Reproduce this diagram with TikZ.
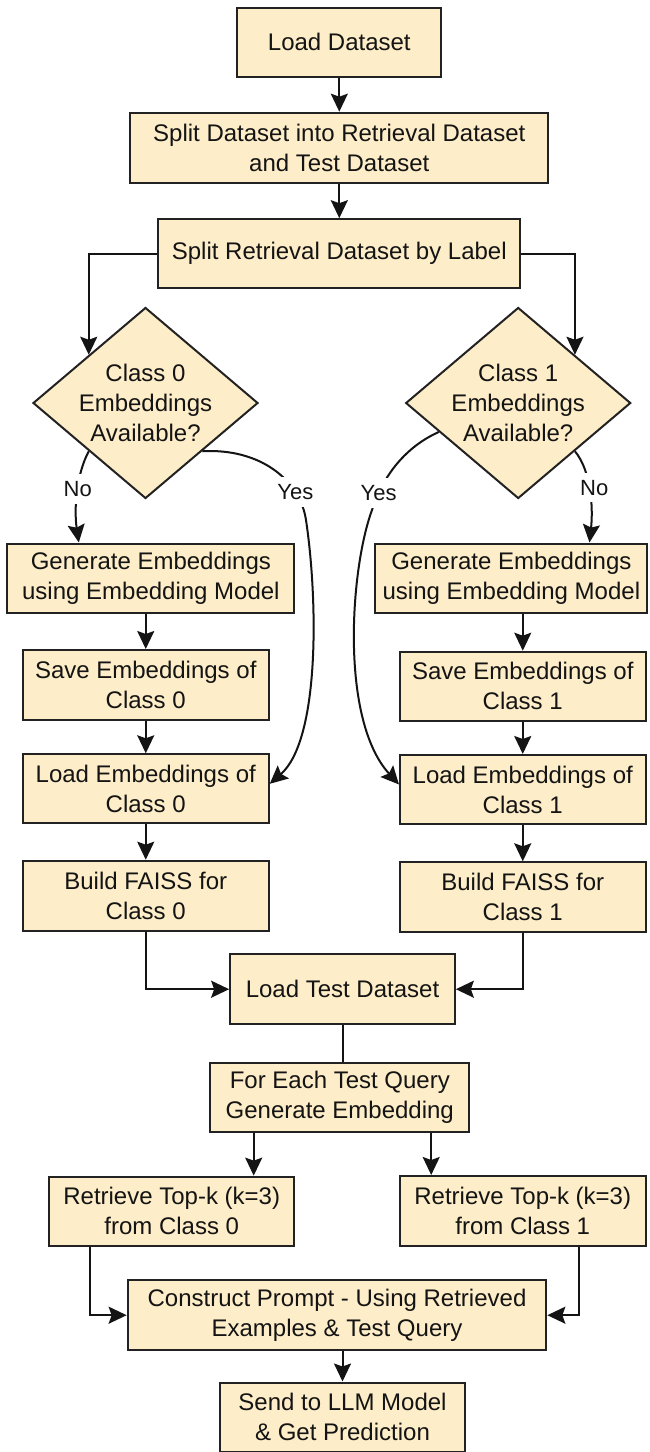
\documentclass[tikz,border=0pt]{standalone}
\usepackage{fontspec}
\setmainfont{Liberation Sans}
\usetikzlibrary{arrows.meta,shapes.geometric,calc}
\definecolor{boxfill}{HTML}{FDEDC8}
\definecolor{ink}{HTML}{141414}
\definecolor{edge}{HTML}{222222}
\begin{document}
\begin{tikzpicture}[x=1pt,y=-1pt,
  every node/.style={font=\fontsize{24}{30}\selectfont, text=ink},
  box/.style={draw=edge, fill=boxfill, line width=2pt, align=center, inner sep=0pt},
  dia/.style={draw=edge, fill=boxfill, line width=2pt, shape=diamond, align=center,
              inner sep=-30pt, minimum width=225pt, minimum height=191pt},
  conn/.style={draw=ink, line width=2pt},
  arr/.style={conn, -{Stealth[length=18pt,width=17pt,inset=3pt]}},
  lbl/.style={fill=white, inner xsep=2pt, inner ysep=7pt, font=\fontsize{22}{26}\selectfont}
]
\useasboundingbox (0,0) rectangle (650,1452);

\coordinate (n0) at (78.8,0);
\coordinate (n1) at (589.5,0);
\coordinate (f0) at (253.7,0);
\coordinate (f1) at (431.2,0);
\coordinate (c0) at (90,0);
\coordinate (c1) at (579.2,0);

\node[box, minimum width=204pt, minimum height=69pt] (load) at (339.3,42) {Load Dataset};
\node[box, minimum width=418pt, minimum height=70pt] (split) at (339.3,147.7) {Split Dataset into Retrieval Dataset\\and Test Dataset};
\node[box, minimum width=362pt, minimum height=69pt] (splitr) at (339.3,253.7) {Split Retrieval Dataset by Label};
\node[dia] (dia0) at (145.5,403) {Class 0\\Embeddings\\Available?};
\node[dia] (dia1) at (518.2,403) {Class 1\\Embeddings\\Available?};
\node[box, minimum width=287pt, minimum height=69pt] (gen0) at (150.9,578) {Generate Embeddings\\using Embedding Model};
\node[box, minimum width=272pt, minimum height=69pt] (gen1) at (511.4,578) {Generate Embeddings\\using Embedding Model};
\node[box, minimum width=246pt, minimum height=70pt] (save0) at (145.75,685) {Save Embeddings of\\Class 0};
\node[box, minimum width=245.5pt, minimum height=69pt] (save1) at (522.75,686.2) {Save Embeddings of\\Class 1};
\node[box, minimum width=246pt, minimum height=69pt] (load0) at (145.75,788.8) {Load Embeddings of\\Class 0};
\node[box, minimum width=245.5pt, minimum height=69pt] (load1) at (522.75,789.5) {Load Embeddings of\\Class 1};
\node[box, minimum width=246pt, minimum height=70pt] (build0) at (145.75,895.7) {Build FAISS for\\Class 0};
\node[box, minimum width=245.5pt, minimum height=69.4pt] (build1) at (522.75,897) {Build FAISS for\\Class 1};
\node[box, minimum width=224.7pt, minimum height=69.7pt] (loadt) at (342.5,989.2) {Load Test Dataset};
\node[box, minimum width=259pt, minimum height=69.3pt] (each) at (339.8,1097.3) {For Each Test Query\\Generate Embedding};
\node[box, minimum width=245.5pt, minimum height=69.3pt] (ret0) at (171.7,1211.3) {Retrieve Top-k (k=3)\\from Class 0};
\node[box, minimum width=245.5pt, minimum height=70pt] (ret1) at (522.75,1211) {Retrieve Top-k (k=3)\\from Class 1};
\node[box, minimum width=418.7pt, minimum height=69.7pt] (cons) at (337,1315.2) {Construct Prompt - Using Retrieved\\Examples \& Test Query};
\node[box, minimum width=245.5pt, minimum height=69pt] (send) at (342.5,1417) {Send to LLM Model\\\& Get Prediction};

\draw[arr] (load) -- (split);
\draw[arr] (split) -- (splitr);
\draw[arr] (splitr.west) -| (dia0.north west);
\draw[arr] (splitr.east) -| (dia1.north east);

\draw[arr] (dia0.south west) .. controls (76,475) and (74,510) .. (gen0.north -| n0)
  node[lbl, pos=0.45] {No};
\draw[arr] (dia1.south east) .. controls (592,472) and (593,510) .. (gen1.north -| n1)
  node[lbl, pos=0.45, xshift=5pt] {No};
\draw[arr] (dia0.south east) .. controls (260,448) and (300,480) .. (306,520)
  node[lbl, pos=0.75] {Yes}
  .. controls (318,600) and (320,740) .. ($(load0.east)+(0,-5)$);
\draw[arr] ($(dia1.west)!0.3!(dia1.south)$) .. controls (410,445) and (385,470) .. (372,510)
  node[lbl, pos=0.85] {Yes}
  .. controls (350,570) and (340,720) .. ($(load1.west)+(0,-5)$);

\draw[arr] (save0.north |- gen0.south) -- (save0.north);
\draw[arr] (save1.north |- gen1.south) -- (save1.north);
\draw[arr] (save0) -- (load0);
\draw[arr] (load0) -- (build0);
\draw[arr] (save1) -- (load1);
\draw[arr] (load1) -- (build1);
\draw[arr] (build0.south) |- (loadt.west);
\draw[arr] (build1.south) |- (loadt.east);
\draw[conn] (loadt.south) -- (loadt.south |- each.north);
\draw[arr] (each.south -| f0) -- (ret0.north -| f0);
\draw[arr] (each.south -| f1) -- (ret1.north -| f1);
\draw[arr] (ret0.south -| c0) |- (cons.west);
\draw[arr] (ret1.south -| c1) |- (cons.east);
\draw[arr] (send.north |- cons.south) -- (send.north);
\end{tikzpicture}
\end{document}
